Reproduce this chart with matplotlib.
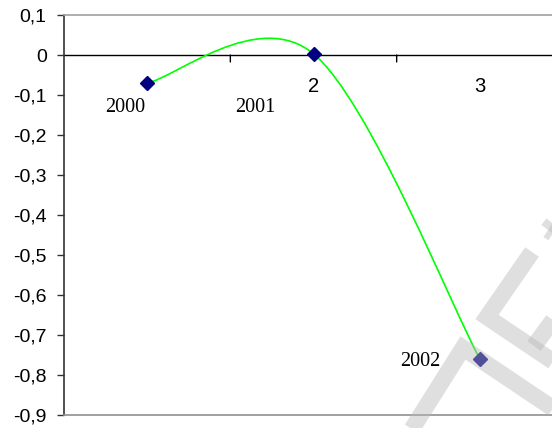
import matplotlib
matplotlib.use("Agg")
import matplotlib.pyplot as plt
from matplotlib.path import Path
from matplotlib.patches import PathPatch
from matplotlib.lines import Line2D

# data
categories = [1, 2, 3]
cat_labels = ["", "2", "3"]  # the "1" sits under the first marker and is not visible
values = [-0.07, 0.003, -0.76]
point_labels = ["2000", "2001", "2002"]
marker_colors = ["#000080", "#000080", "#000080"]
yticks = [0.1, 0.0, -0.1, -0.2, -0.3, -0.4, -0.5, -0.6, -0.7, -0.8, -0.9]
# label offsets in pixels (dx, dy) from each point
label_offsets = [(-22, -24), (-58, -54), (-60, -2)]

W, H = 552, 428
fig = plt.figure(figsize=(W / 100, H / 100), dpi=100)
ax = fig.add_axes([64 / W, 1 - 415 / H, (563 - 64) / W, 400 / H])

ax.set_xlim(0.5, 3.5)
ax.set_ylim(-0.9, 0.1)

# smoothed line (Catmull-Rom style bezier, like Excel's smoothing)
pts = list(zip(categories, values))
verts = [pts[0]]
codes = [Path.MOVETO]
for i in range(len(pts) - 1):
    p0 = pts[i - 1] if i > 0 else pts[i]
    p1 = pts[i]
    p2 = pts[i + 1]
    p3 = pts[i + 2] if i + 2 < len(pts) else pts[i + 1]
    c1 = (p1[0] + (p2[0] - p0[0]) / 6, p1[1] + (p2[1] - p0[1]) / 6)
    c2 = (p2[0] - (p3[0] - p1[0]) / 6, p2[1] - (p3[1] - p1[1]) / 6)
    verts += [c1, c2, p2]
    codes += [Path.CURVE4] * 3
ax.add_patch(PathPatch(Path(verts, codes), facecolor="none", edgecolor="#00ff00",
                       lw=1.2, zorder=3))

# category labels hang below the zero axis
for c, lab in zip(categories, cat_labels):
    ax.annotate(lab, (c, 0), xytext=(0, -32 * 0.72), textcoords="offset points",
                ha="center", va="center", fontsize=14.5, family="Liberation Sans",
                zorder=2)

for c, v, col in zip(categories, values, marker_colors):
    ax.plot(c, v, marker="D", ms=7.5, color=col, mec=col, zorder=4)

for c, v, lab, (dx, dy) in zip(categories, values, point_labels, label_offsets):
    ax.annotate(lab, (c, v), xytext=(dx * 0.72, dy * 0.72), textcoords="offset points",
                ha="center", va="center", fontsize=14.5, family="Liberation Serif")

# zero axis with tick marks between categories
ax.axhline(0, color="black", lw=1, zorder=2)
for b in [1.5, 2.5, 3.5]:
    ax.annotate("", (b, 0), xytext=(0, -5), textcoords="offset points",
                arrowprops=dict(arrowstyle="-", color="black", lw=1,
                                shrinkA=0, shrinkB=0))

ax.set_yticks(yticks)
ax.set_yticklabels([f"{t:.1f}".replace(".", ",").replace("-0,0", "0").replace("0,0", "0")
                    for t in yticks], family="Liberation Sans", fontsize=14)
ax.tick_params(axis="y", length=5, width=1, color="#333333", pad=7.5)
ax.set_xticks([])

ax.spines["right"].set_visible(False)
ax.spines["left"].set_color("#333333")
ax.spines["top"].set_color("#a0a0a0")
ax.spines["bottom"].set_color("#909090")
for s in ax.spines.values():
    s.set_linewidth(1.2)


# watermark strokes over the bottom right corner
def px(x, y):
    return x / W, 1 - y / H


strokes = [
    [(400, 448), (463, 348), (600, 440)],
    [(532, 252), (487, 317), (600, 393)],
    [(534, 346), (562, 308)],
    [(548, 230), (575, 195)],
    [(548, 230), (590, 258)],
]
for s in strokes:
    xs, ys = zip(*[px(x, y) for x, y in s])
    fig.add_artist(Line2D(xs, ys, transform=fig.transFigure, color=(0.72, 0.72, 0.72),
                          alpha=0.44, lw=12, solid_capstyle="butt",
                          solid_joinstyle="miter", zorder=10))

fig.savefig("out.png", dpi=100)
